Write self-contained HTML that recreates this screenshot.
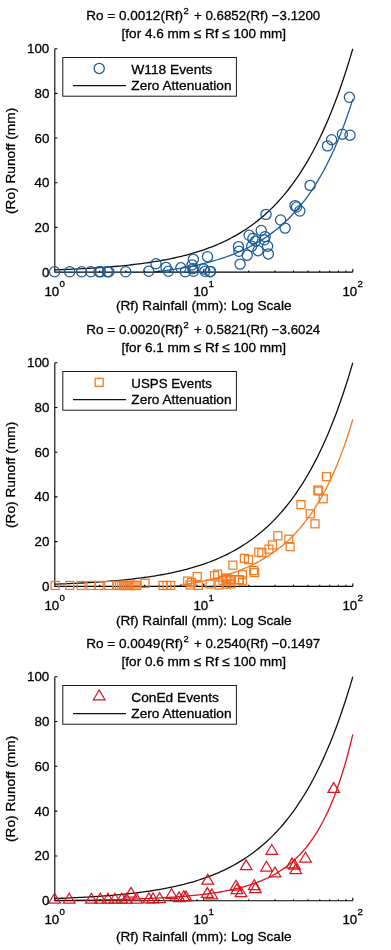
<!DOCTYPE html>
<html lang="en"><head><meta charset="utf-8"><title>Rainfall vs Runoff</title>
<style>
html,body{margin:0;padding:0;background:#fff;}
svg{display:block;}
text{font-family:"Liberation Sans",sans-serif;font-size:13.5px;fill:#000;stroke:#000;stroke-width:0.3px;}
.sup{font-size:9.4px;}
.tk{font-size:13.33px;}
.ax{stroke:#000;stroke-width:1.1;fill:none;}
.zl{stroke:#111;stroke-width:1.3;fill:none;}
</style></head><body>
<svg width="391" height="950" viewBox="0 0 391 950">
<rect width="391" height="950" fill="#fff"/>
<g>
<text x="86.2" y="20" textLength="96.8" lengthAdjust="spacingAndGlyphs">Ro = 0.0012(Rf)</text>
<text x="183.4" y="13.7" class="sup">2</text>
<text x="194.0" y="20" textLength="126.2" lengthAdjust="spacingAndGlyphs">+ 0.6852(Rf) −3.1200</text>
<text x="121.6" y="37.5" textLength="164.4" lengthAdjust="spacingAndGlyphs">[for 4.6 mm ≤ Rf ≤ 100 mm]</text>
<path class="zl" d="M54.8 269.87 L57.28 269.78 L59.77 269.69 L62.25 269.59 L64.73 269.5 L67.22 269.39 L69.7 269.29 L72.18 269.18 L74.67 269.06 L77.15 268.94 L79.63 268.82 L82.12 268.69 L84.6 268.56 L87.08 268.42 L89.57 268.28 L92.05 268.13 L94.53 267.97 L97.02 267.81 L99.5 267.64 L101.98 267.47 L104.47 267.29 L106.95 267.1 L109.43 266.9 L111.92 266.7 L114.4 266.49 L116.88 266.27 L119.37 266.04 L121.85 265.8 L124.33 265.56 L126.82 265.3 L129.3 265.04 L131.78 264.76 L134.27 264.47 L136.75 264.17 L139.23 263.86 L141.72 263.54 L144.2 263.21 L146.68 262.86 L149.17 262.5 L151.65 262.12 L154.13 261.73 L156.62 261.33 L159.1 260.9 L161.58 260.47 L164.07 260.01 L166.55 259.54 L169.03 259.05 L171.52 258.54 L174 258 L176.48 257.45 L178.97 256.88 L181.45 256.28 L183.93 255.67 L186.42 255.02 L188.9 254.35 L191.38 253.66 L193.87 252.94 L196.35 252.19 L198.83 251.41 L201.32 250.6 L203.8 249.76 L206.28 248.89 L208.77 247.98 L211.25 247.03 L213.73 246.05 L216.22 245.03 L218.7 243.98 L221.18 242.88 L223.67 241.73 L226.15 240.54 L228.63 239.31 L231.12 238.03 L233.6 236.69 L236.08 235.31 L238.57 233.87 L241.05 232.37 L243.53 230.82 L246.02 229.2 L248.5 227.53 L250.98 225.78 L253.47 223.97 L255.95 222.09 L258.43 220.13 L260.92 218.1 L263.4 215.98 L265.88 213.79 L268.37 211.51 L270.85 209.14 L273.33 206.67 L275.82 204.11 L278.3 201.45 L280.78 198.69 L283.27 195.82 L285.75 192.83 L288.23 189.73 L290.72 186.51 L293.2 183.16 L295.68 179.68 L298.17 176.07 L300.65 172.31 L303.13 168.41 L305.62 164.35 L308.1 160.13 L310.58 155.75 L313.07 151.2 L315.55 146.47 L318.03 141.56 L320.52 136.45 L323 131.14 L325.48 125.63 L327.97 119.9 L330.45 113.94 L332.93 107.76 L335.42 101.33 L337.9 94.65 L340.38 87.7 L342.87 80.49 L345.35 72.99 L347.83 65.21 L350.32 57.11 L352.8 48.7"/>
<path d="M153.55 271.97 L155.21 271.79 L156.87 271.6 L158.53 271.4 L160.19 271.2 L161.85 270.99 L163.51 270.78 L165.17 270.56 L166.83 270.34 L168.49 270.11 L170.16 269.87 L171.82 269.63 L173.48 269.38 L175.14 269.13 L176.8 268.87 L178.46 268.6 L180.12 268.33 L181.78 268.04 L183.44 267.75 L185.1 267.45 L186.76 267.15 L188.42 266.83 L190.08 266.51 L191.74 266.18 L193.4 265.84 L195.06 265.49 L196.72 265.13 L198.38 264.77 L200.04 264.39 L201.7 264 L203.36 263.6 L205.02 263.19 L206.68 262.77 L208.34 262.34 L210 261.9 L211.67 261.44 L213.33 260.98 L214.99 260.5 L216.65 260 L218.31 259.5 L219.97 258.98 L221.63 258.44 L223.29 257.89 L224.95 257.33 L226.61 256.75 L228.27 256.16 L229.93 255.55 L231.59 254.92 L233.25 254.27 L234.91 253.61 L236.57 252.93 L238.23 252.23 L239.89 251.51 L241.55 250.78 L243.21 250.02 L244.87 249.24 L246.53 248.44 L248.19 247.61 L249.85 246.77 L251.52 245.9 L253.18 245.01 L254.84 244.09 L256.5 243.14 L258.16 242.17 L259.82 241.18 L261.48 240.15 L263.14 239.1 L264.8 238.01 L266.46 236.9 L268.12 235.75 L269.78 234.58 L271.44 233.36 L273.1 232.12 L274.76 230.84 L276.42 229.52 L278.08 228.16 L279.74 226.77 L281.4 225.34 L283.06 223.86 L284.72 222.34 L286.38 220.78 L288.04 219.17 L289.7 217.52 L291.36 215.82 L293.03 214.07 L294.69 212.27 L296.35 210.41 L298.01 208.5 L299.67 206.54 L301.33 204.51 L302.99 202.43 L304.65 200.28 L306.31 198.08 L307.97 195.8 L309.63 193.46 L311.29 191.04 L312.95 188.56 L314.61 186 L316.27 183.36 L317.93 180.64 L319.59 177.84 L321.25 174.95 L322.91 171.97 L324.57 168.91 L326.23 165.74 L327.89 162.48 L329.55 159.12 L331.21 155.66 L332.88 152.08 L334.54 148.4 L336.2 144.59 L337.86 140.67 L339.52 136.62 L341.18 132.45 L342.84 128.14 L344.5 123.69 L346.16 119.09 L347.82 114.35 L349.48 109.46 L351.14 104.41 L352.8 99.19" fill="none" stroke="#1d5c97" stroke-width="1.3"/>
<path class="ax" d="M54.8 48.7V272.1H352.8M54.8 272.1h2.6M54.8 227.42h2.6M54.8 182.74h2.6M54.8 138.06h2.6M54.8 93.38h2.6M54.8 48.7h2.6M54.8 272.1v-3M99.65 272.1v-1.6M125.89 272.1v-1.6M144.51 272.1v-1.6M158.95 272.1v-1.6M170.74 272.1v-1.6M180.72 272.1v-1.6M189.36 272.1v-1.6M196.98 272.1v-1.6M203.8 272.1v-3M248.65 272.1v-1.6M274.89 272.1v-1.6M293.51 272.1v-1.6M307.95 272.1v-1.6M319.74 272.1v-1.6M329.72 272.1v-1.6M338.36 272.1v-1.6M345.98 272.1v-1.6M352.8 272.1v-3"/>
<g fill="none" stroke="#1d5c97" stroke-width="1.25">
<circle cx="54.6" cy="271.75" r="5.1"/>
<circle cx="69.7" cy="271.75" r="5.1"/>
<circle cx="81.7" cy="271.75" r="5.1"/>
<circle cx="90.8" cy="271.75" r="5.1"/>
<circle cx="99" cy="271.75" r="5.1"/>
<circle cx="100.4" cy="271.75" r="5.1"/>
<circle cx="107.4" cy="271.75" r="5.1"/>
<circle cx="108.8" cy="271.75" r="5.1"/>
<circle cx="125.7" cy="271.75" r="5.1"/>
<circle cx="148.7" cy="271.3" r="5.1"/>
<circle cx="156" cy="263.8" r="5.1"/>
<circle cx="166" cy="267.4" r="5.1"/>
<circle cx="168.4" cy="271.3" r="5.1"/>
<circle cx="180.9" cy="267.8" r="5.1"/>
<circle cx="185.3" cy="271.75" r="5.1"/>
<circle cx="193.4" cy="259.3" r="5.1"/>
<circle cx="207.5" cy="256.7" r="5.1"/>
<circle cx="192.1" cy="264.9" r="5.1"/>
<circle cx="193.4" cy="271.3" r="5.1"/>
<circle cx="192.8" cy="268.8" r="5.1"/>
<circle cx="203.7" cy="269" r="5.1"/>
<circle cx="204.9" cy="271.3" r="5.1"/>
<circle cx="210" cy="271.75" r="5.1"/>
<circle cx="210.5" cy="271.4" r="5.1"/>
<circle cx="266" cy="214.4" r="5.1"/>
<circle cx="280.6" cy="220" r="5.1"/>
<circle cx="285.1" cy="228.1" r="5.1"/>
<circle cx="261.2" cy="230.5" r="5.1"/>
<circle cx="249.1" cy="235.3" r="5.1"/>
<circle cx="252.9" cy="238.5" r="5.1"/>
<circle cx="255.5" cy="241.1" r="5.1"/>
<circle cx="265.1" cy="236.6" r="5.1"/>
<circle cx="264.4" cy="239.8" r="5.1"/>
<circle cx="251.7" cy="246.2" r="5.1"/>
<circle cx="267.6" cy="246.2" r="5.1"/>
<circle cx="238.5" cy="246.6" r="5.1"/>
<circle cx="238.9" cy="251.3" r="5.1"/>
<circle cx="247.2" cy="255.2" r="5.1"/>
<circle cx="258" cy="250.7" r="5.1"/>
<circle cx="268.3" cy="253.9" r="5.1"/>
<circle cx="240.1" cy="264.1" r="5.1"/>
<circle cx="349.4" cy="97.3" r="5.1"/>
<circle cx="342.4" cy="134.2" r="5.1"/>
<circle cx="350" cy="135.2" r="5.1"/>
<circle cx="331.6" cy="139.7" r="5.1"/>
<circle cx="327.5" cy="145.9" r="5.1"/>
<circle cx="310.1" cy="185.4" r="5.1"/>
<circle cx="295" cy="205.6" r="5.1"/>
<circle cx="296.6" cy="207" r="5.1"/>
<circle cx="299.8" cy="211" r="5.1"/>
</g>
<text class="tk" x="49.3" y="276.65" text-anchor="end">0</text>
<text class="tk" x="49.3" y="231.97" text-anchor="end">20</text>
<text class="tk" x="49.3" y="187.29" text-anchor="end">40</text>
<text class="tk" x="49.3" y="142.61" text-anchor="end">60</text>
<text class="tk" x="49.3" y="97.93" text-anchor="end">80</text>
<text class="tk" x="49.3" y="53.25" text-anchor="end">100</text>
<text class="tk" x="44.4" y="296.1">10<tspan class="sup" style="font-size:9.7px" dy="-9.3" dx="0.3">0</tspan></text>
<text class="tk" x="193.4" y="296.1">10<tspan class="sup" style="font-size:9.7px" dy="-9.3" dx="0.3">1</tspan></text>
<text class="tk" x="342.4" y="296.1">10<tspan class="sup" style="font-size:9.7px" dy="-9.3" dx="0.3">2</tspan></text>
<text x="115.9" y="310.3" textLength="175.6" lengthAdjust="spacingAndGlyphs">(Rf) Rainfall (mm): Log Scale</text>
<text transform="translate(15.2 214) rotate(-90)" textLength="106.2" lengthAdjust="spacingAndGlyphs">(Ro) Runoff (mm)</text>
<rect x="62.8" y="57.5" width="173.6" height="38.7" fill="#fff" stroke="#1a1a1a" stroke-width="1"/>
<g fill="none" stroke="#1d5c97" stroke-width="1.25"><circle cx="99.2" cy="68.4" r="5.1"/></g>
<path class="zl" style="stroke-width:1.05" d="M73 85.6H126"/>
<text x="131.3" y="74.1" textLength="80.8" lengthAdjust="spacingAndGlyphs">W118 Events</text>
<text x="131.3" y="90.3" textLength="100.2" lengthAdjust="spacingAndGlyphs">Zero Attenuation</text>
</g>
<g>
<text x="86.2" y="334" textLength="96.8" lengthAdjust="spacingAndGlyphs">Ro = 0.0020(Rf)</text>
<text x="183.4" y="327.7" class="sup">2</text>
<text x="194.0" y="334" textLength="126.2" lengthAdjust="spacingAndGlyphs">+ 0.5821(Rf) −3.6024</text>
<text x="121.6" y="351.5" textLength="164.4" lengthAdjust="spacingAndGlyphs">[for 6.1 mm ≤ Rf ≤ 100 mm]</text>
<path class="zl" d="M54.8 584.16 L57.28 584.08 L59.77 583.98 L62.25 583.89 L64.73 583.79 L67.22 583.69 L69.7 583.58 L72.18 583.47 L74.67 583.36 L77.15 583.24 L79.63 583.12 L82.12 582.99 L84.6 582.85 L87.08 582.72 L89.57 582.57 L92.05 582.42 L94.53 582.27 L97.02 582.1 L99.5 581.94 L101.98 581.76 L104.47 581.58 L106.95 581.39 L109.43 581.2 L111.92 580.99 L114.4 580.78 L116.88 580.56 L119.37 580.33 L121.85 580.1 L124.33 579.85 L126.82 579.59 L129.3 579.33 L131.78 579.05 L134.27 578.76 L136.75 578.46 L139.23 578.15 L141.72 577.83 L144.2 577.49 L146.68 577.15 L149.17 576.78 L151.65 576.41 L154.13 576.02 L156.62 575.61 L159.1 575.19 L161.58 574.75 L164.07 574.29 L166.55 573.82 L169.03 573.33 L171.52 572.82 L174 572.29 L176.48 571.73 L178.97 571.16 L181.45 570.56 L183.93 569.94 L186.42 569.3 L188.9 568.63 L191.38 567.94 L193.87 567.21 L196.35 566.46 L198.83 565.68 L201.32 564.87 L203.8 564.03 L206.28 563.15 L208.77 562.25 L211.25 561.3 L213.73 560.32 L216.22 559.3 L218.7 558.24 L221.18 557.14 L223.67 555.99 L226.15 554.8 L228.63 553.57 L231.12 552.28 L233.6 550.95 L236.08 549.56 L238.57 548.12 L241.05 546.62 L243.53 545.06 L246.02 543.45 L248.5 541.77 L250.98 540.02 L253.47 538.21 L255.95 536.32 L258.43 534.36 L260.92 532.32 L263.4 530.21 L265.88 528.01 L268.37 525.73 L270.85 523.35 L273.33 520.89 L275.82 518.32 L278.3 515.66 L280.78 512.89 L283.27 510.02 L285.75 507.03 L288.23 503.92 L290.72 500.7 L293.2 497.34 L295.68 493.86 L298.17 490.24 L300.65 486.48 L303.13 482.57 L305.62 478.51 L308.1 474.28 L310.58 469.9 L313.07 465.34 L315.55 460.6 L318.03 455.68 L320.52 450.57 L323 445.25 L325.48 439.73 L327.97 433.99 L330.45 428.03 L332.93 421.84 L335.42 415.4 L337.9 408.71 L340.38 401.76 L342.87 394.53 L345.35 387.03 L347.83 379.23 L350.32 371.12 L352.8 362.7"/>
<path d="M171.81 586.35 L173.32 586.15 L174.83 585.95 L176.34 585.75 L177.85 585.54 L179.36 585.32 L180.86 585.1 L182.37 584.88 L183.88 584.65 L185.39 584.41 L186.9 584.17 L188.4 583.92 L189.91 583.66 L191.42 583.4 L192.93 583.13 L194.44 582.86 L195.95 582.57 L197.45 582.29 L198.96 581.99 L200.47 581.69 L201.98 581.38 L203.49 581.06 L204.99 580.73 L206.5 580.4 L208.01 580.05 L209.52 579.7 L211.03 579.34 L212.54 578.97 L214.04 578.59 L215.55 578.2 L217.06 577.8 L218.57 577.39 L220.08 576.97 L221.59 576.54 L223.09 576.1 L224.6 575.65 L226.11 575.18 L227.62 574.71 L229.13 574.22 L230.63 573.72 L232.14 573.21 L233.65 572.68 L235.16 572.14 L236.67 571.58 L238.18 571.01 L239.68 570.43 L241.19 569.83 L242.7 569.22 L244.21 568.58 L245.72 567.94 L247.22 567.27 L248.73 566.59 L250.24 565.89 L251.75 565.17 L253.26 564.43 L254.77 563.67 L256.27 562.9 L257.78 562.1 L259.29 561.28 L260.8 560.43 L262.31 559.57 L263.82 558.68 L265.32 557.77 L266.83 556.83 L268.34 555.87 L269.85 554.88 L271.36 553.86 L272.86 552.82 L274.37 551.74 L275.88 550.64 L277.39 549.51 L278.9 548.34 L280.41 547.14 L281.91 545.91 L283.42 544.65 L284.93 543.35 L286.44 542.01 L287.95 540.63 L289.45 539.22 L290.96 537.76 L292.47 536.27 L293.98 534.73 L295.49 533.14 L297 531.51 L298.5 529.84 L300.01 528.11 L301.52 526.34 L303.03 524.51 L304.54 522.63 L306.05 520.69 L307.55 518.69 L309.06 516.64 L310.57 514.53 L312.08 512.35 L313.59 510.11 L315.09 507.8 L316.6 505.42 L318.11 502.96 L319.62 500.44 L321.13 497.83 L322.64 495.15 L324.14 492.38 L325.65 489.53 L327.16 486.59 L328.67 483.55 L330.18 480.43 L331.68 477.2 L333.19 473.87 L334.7 470.44 L336.21 466.9 L337.72 463.24 L339.23 459.47 L340.73 455.58 L342.24 451.56 L343.75 447.41 L345.26 443.13 L346.77 438.7 L348.28 434.14 L349.78 429.42 L351.29 424.54 L352.8 419.5" fill="none" stroke="#f47a20" stroke-width="1.3"/>
<path class="ax" d="M54.8 362.7V586.4H352.8M54.8 586.4h2.6M54.8 541.66h2.6M54.8 496.92h2.6M54.8 452.18h2.6M54.8 407.44h2.6M54.8 362.7h2.6M54.8 586.4v-3M99.65 586.4v-1.6M125.89 586.4v-1.6M144.51 586.4v-1.6M158.95 586.4v-1.6M170.74 586.4v-1.6M180.72 586.4v-1.6M189.36 586.4v-1.6M196.98 586.4v-1.6M203.8 586.4v-3M248.65 586.4v-1.6M274.89 586.4v-1.6M293.51 586.4v-1.6M307.95 586.4v-1.6M319.74 586.4v-1.6M329.72 586.4v-1.6M338.36 586.4v-1.6M345.98 586.4v-1.6M352.8 586.4v-3"/>
<g fill="none" stroke="#f47a20" stroke-width="1.25">
<rect x="51.1" y="581.45" width="8" height="8"/>
<rect x="65.7" y="581.45" width="8" height="8"/>
<rect x="77.2" y="581.45" width="8" height="8"/>
<rect x="87" y="581.45" width="8" height="8"/>
<rect x="95.2" y="581.45" width="8" height="8"/>
<rect x="104.7" y="581.45" width="8" height="8"/>
<rect x="113" y="581.45" width="8" height="8"/>
<rect x="115.3" y="581.45" width="8" height="8"/>
<rect x="117.5" y="581.45" width="8" height="8"/>
<rect x="119.5" y="581.45" width="8" height="8"/>
<rect x="121" y="581.45" width="8" height="8"/>
<rect x="123" y="581.45" width="8" height="8"/>
<rect x="125" y="581.45" width="8" height="8"/>
<rect x="127" y="581.45" width="8" height="8"/>
<rect x="129" y="581.45" width="8" height="8"/>
<rect x="131" y="581.45" width="8" height="8"/>
<rect x="132.6" y="581.45" width="8" height="8"/>
<rect x="141" y="579.3" width="8" height="8"/>
<rect x="159" y="581.45" width="8" height="8"/>
<rect x="162.9" y="581.45" width="8" height="8"/>
<rect x="166.7" y="581.45" width="8" height="8"/>
<rect x="228.9" y="561.2" width="8" height="8"/>
<rect x="193.2" y="572.5" width="8" height="8"/>
<rect x="213.6" y="570.2" width="8" height="8"/>
<rect x="210.5" y="571.7" width="8" height="8"/>
<rect x="183.7" y="577.1" width="8" height="8"/>
<rect x="187.5" y="578.6" width="8" height="8"/>
<rect x="186" y="581" width="8" height="8"/>
<rect x="194.4" y="581.45" width="8" height="8"/>
<rect x="222" y="574" width="8" height="8"/>
<rect x="226.6" y="575.6" width="8" height="8"/>
<rect x="219" y="576.3" width="8" height="8"/>
<rect x="215.1" y="581" width="8" height="8"/>
<rect x="222" y="580.2" width="8" height="8"/>
<rect x="235" y="575.6" width="8" height="8"/>
<rect x="206" y="580" width="8" height="8"/>
<rect x="297" y="500.6" width="8" height="8"/>
<rect x="273.8" y="531.8" width="8" height="8"/>
<rect x="284.8" y="535.2" width="8" height="8"/>
<rect x="286.1" y="542.7" width="8" height="8"/>
<rect x="268.5" y="541" width="8" height="8"/>
<rect x="265" y="545.1" width="8" height="8"/>
<rect x="254.8" y="548.2" width="8" height="8"/>
<rect x="257.8" y="548.8" width="8" height="8"/>
<rect x="240.4" y="554.3" width="8" height="8"/>
<rect x="244.5" y="555.7" width="8" height="8"/>
<rect x="249.6" y="566.6" width="8" height="8"/>
<rect x="250.7" y="568.6" width="8" height="8"/>
<rect x="238.4" y="570.7" width="8" height="8"/>
<rect x="235.3" y="575.8" width="8" height="8"/>
<rect x="238.5" y="576.8" width="8" height="8"/>
<rect x="223" y="574.8" width="8" height="8"/>
<rect x="225" y="576.8" width="8" height="8"/>
<rect x="227" y="579.9" width="8" height="8"/>
<rect x="322.4" y="472.7" width="8" height="8"/>
<rect x="313.9" y="486" width="8" height="8"/>
<rect x="314.6" y="487" width="8" height="8"/>
<rect x="319.2" y="494.8" width="8" height="8"/>
<rect x="306.3" y="509.8" width="8" height="8"/>
<rect x="311" y="519.8" width="8" height="8"/>
</g>
<text class="tk" x="49.3" y="590.95" text-anchor="end">0</text>
<text class="tk" x="49.3" y="546.21" text-anchor="end">20</text>
<text class="tk" x="49.3" y="501.47" text-anchor="end">40</text>
<text class="tk" x="49.3" y="456.73" text-anchor="end">60</text>
<text class="tk" x="49.3" y="411.99" text-anchor="end">80</text>
<text class="tk" x="49.3" y="367.25" text-anchor="end">100</text>
<text class="tk" x="44.4" y="609.8">10<tspan class="sup" style="font-size:9.7px" dy="-9.3" dx="0.3">0</tspan></text>
<text class="tk" x="193.4" y="609.8">10<tspan class="sup" style="font-size:9.7px" dy="-9.3" dx="0.3">1</tspan></text>
<text class="tk" x="342.4" y="609.8">10<tspan class="sup" style="font-size:9.7px" dy="-9.3" dx="0.3">2</tspan></text>
<text x="115.9" y="625.4" textLength="175.6" lengthAdjust="spacingAndGlyphs">(Rf) Rainfall (mm): Log Scale</text>
<text transform="translate(15.2 528) rotate(-90)" textLength="106.2" lengthAdjust="spacingAndGlyphs">(Ro) Runoff (mm)</text>
<rect x="62.8" y="371.5" width="173.6" height="38.7" fill="#fff" stroke="#1a1a1a" stroke-width="1"/>
<g fill="none" stroke="#f47a20" stroke-width="1.25"><rect x="95.2" y="378.4" width="8" height="8"/></g>
<path class="zl" style="stroke-width:1.05" d="M73 399.6H126"/>
<text x="131.3" y="388.1" textLength="80.6" lengthAdjust="spacingAndGlyphs">USPS Events</text>
<text x="131.3" y="404.3" textLength="100.2" lengthAdjust="spacingAndGlyphs">Zero Attenuation</text>
</g>
<g>
<text x="86.2" y="648" textLength="96.8" lengthAdjust="spacingAndGlyphs">Ro = 0.0049(Rf)</text>
<text x="183.4" y="641.7" class="sup">2</text>
<text x="194.0" y="648" textLength="126.2" lengthAdjust="spacingAndGlyphs">+ 0.2540(Rf) −0.1497</text>
<text x="121.6" y="665.5" textLength="164.4" lengthAdjust="spacingAndGlyphs">[for 0.6 mm ≤ Rf ≤ 100 mm]</text>
<path class="zl" d="M54.8 898.51 L57.28 898.42 L59.77 898.33 L62.25 898.24 L64.73 898.14 L67.22 898.04 L69.7 897.93 L72.18 897.82 L74.67 897.7 L77.15 897.59 L79.63 897.46 L82.12 897.33 L84.6 897.2 L87.08 897.06 L89.57 896.92 L92.05 896.77 L94.53 896.61 L97.02 896.45 L99.5 896.28 L101.98 896.1 L104.47 895.92 L106.95 895.73 L109.43 895.54 L111.92 895.33 L114.4 895.12 L116.88 894.9 L119.37 894.67 L121.85 894.44 L124.33 894.19 L126.82 893.93 L129.3 893.66 L131.78 893.39 L134.27 893.1 L136.75 892.8 L139.23 892.49 L141.72 892.17 L144.2 891.83 L146.68 891.48 L149.17 891.12 L151.65 890.74 L154.13 890.35 L156.62 889.94 L159.1 889.52 L161.58 889.08 L164.07 888.63 L166.55 888.15 L169.03 887.66 L171.52 887.15 L174 886.61 L176.48 886.06 L178.97 885.49 L181.45 884.89 L183.93 884.27 L186.42 883.62 L188.9 882.95 L191.38 882.26 L193.87 881.53 L196.35 880.78 L198.83 880 L201.32 879.19 L203.8 878.35 L206.28 877.47 L208.77 876.56 L211.25 875.61 L213.73 874.63 L216.22 873.61 L218.7 872.54 L221.18 871.44 L223.67 870.29 L226.15 869.1 L228.63 867.86 L231.12 866.58 L233.6 865.24 L236.08 863.85 L238.57 862.41 L241.05 860.91 L243.53 859.35 L246.02 857.73 L248.5 856.05 L250.98 854.3 L253.47 852.48 L255.95 850.59 L258.43 848.63 L260.92 846.59 L263.4 844.47 L265.88 842.27 L268.37 839.98 L270.85 837.6 L273.33 835.13 L275.82 832.57 L278.3 829.9 L280.78 827.13 L283.27 824.25 L285.75 821.25 L288.23 818.14 L290.72 814.91 L293.2 811.55 L295.68 808.06 L298.17 804.44 L300.65 800.67 L303.13 796.76 L305.62 792.69 L308.1 788.46 L310.58 784.07 L313.07 779.5 L315.55 774.76 L318.03 769.83 L320.52 764.71 L323 759.38 L325.48 753.85 L327.97 748.11 L330.45 742.13 L332.93 735.93 L335.42 729.48 L337.9 722.78 L340.38 715.82 L342.87 708.58 L345.35 701.07 L347.83 693.25 L350.32 685.14 L352.8 676.7"/>
<path d="M54.8 900.51 L57.28 900.48 L59.77 900.46 L62.25 900.43 L64.73 900.41 L67.22 900.38 L69.7 900.35 L72.18 900.32 L74.67 900.29 L77.15 900.26 L79.63 900.23 L82.12 900.19 L84.6 900.16 L87.08 900.12 L89.57 900.08 L92.05 900.04 L94.53 900 L97.02 899.95 L99.5 899.91 L101.98 899.86 L104.47 899.81 L106.95 899.76 L109.43 899.7 L111.92 899.65 L114.4 899.59 L116.88 899.53 L119.37 899.46 L121.85 899.39 L124.33 899.32 L126.82 899.25 L129.3 899.18 L131.78 899.1 L134.27 899.01 L136.75 898.93 L139.23 898.84 L141.72 898.74 L144.2 898.65 L146.68 898.54 L149.17 898.44 L151.65 898.32 L154.13 898.21 L156.62 898.09 L159.1 897.96 L161.58 897.82 L164.07 897.68 L166.55 897.54 L169.03 897.39 L171.52 897.23 L174 897.06 L176.48 896.88 L178.97 896.7 L181.45 896.51 L183.93 896.3 L186.42 896.09 L188.9 895.87 L191.38 895.64 L193.87 895.4 L196.35 895.14 L198.83 894.87 L201.32 894.59 L203.8 894.3 L206.28 893.99 L208.77 893.66 L211.25 893.32 L213.73 892.96 L216.22 892.58 L218.7 892.18 L221.18 891.76 L223.67 891.32 L226.15 890.86 L228.63 890.37 L231.12 889.85 L233.6 889.31 L236.08 888.74 L238.57 888.13 L241.05 887.49 L243.53 886.82 L246.02 886.11 L248.5 885.36 L250.98 884.57 L253.47 883.73 L255.95 882.84 L258.43 881.91 L260.92 880.91 L263.4 879.86 L265.88 878.75 L268.37 877.57 L270.85 876.33 L273.33 875 L275.82 873.6 L278.3 872.11 L280.78 870.53 L283.27 868.85 L285.75 867.07 L288.23 865.18 L290.72 863.17 L293.2 861.03 L295.68 858.76 L298.17 856.34 L300.65 853.76 L303.13 851.02 L305.62 848.1 L308.1 844.99 L310.58 841.67 L313.07 838.14 L315.55 834.37 L318.03 830.34 L320.52 826.05 L323 821.47 L325.48 816.58 L327.97 811.36 L330.45 805.77 L332.93 799.81 L335.42 793.43 L337.9 786.61 L340.38 779.32 L342.87 771.51 L345.35 763.16 L347.83 754.22 L350.32 744.65 L352.8 734.39" fill="none" stroke="#dc141e" stroke-width="1.3"/>
<path class="ax" d="M54.8 676.7V900.75H352.8M54.8 900.75h2.6M54.8 855.94h2.6M54.8 811.13h2.6M54.8 766.32h2.6M54.8 721.51h2.6M54.8 676.7h2.6M54.8 900.75v-3M99.65 900.75v-1.6M125.89 900.75v-1.6M144.51 900.75v-1.6M158.95 900.75v-1.6M170.74 900.75v-1.6M180.72 900.75v-1.6M189.36 900.75v-1.6M196.98 900.75v-1.6M203.8 900.75v-3M248.65 900.75v-1.6M274.89 900.75v-1.6M293.51 900.75v-1.6M307.95 900.75v-1.6M319.74 900.75v-1.6M329.72 900.75v-1.6M338.36 900.75v-1.6M345.98 900.75v-1.6M352.8 900.75v-3"/>
<g fill="none" stroke="#dc141e" stroke-width="1.25">
<path d="M54.6 893.2L48.8 903L60.4 903Z"/>
<path d="M69.2 893.2L63.4 903L75 903Z"/>
<path d="M91.4 893.2L85.6 903L97.2 903Z"/>
<path d="M100.3 893.2L94.5 903L106.1 903Z"/>
<path d="M108 893.2L102.2 903L113.8 903Z"/>
<path d="M114.9 893.2L109.1 903L120.7 903Z"/>
<path d="M121.8 893.2L116 903L127.6 903Z"/>
<path d="M126.4 893.2L120.6 903L132.2 903Z"/>
<path d="M131 887.4L125.2 897.2L136.8 897.2Z"/>
<path d="M136.4 893.2L130.6 903L142.2 903Z"/>
<path d="M148.9 893L143.1 902.8L154.7 902.8Z"/>
<path d="M153 893L147.2 902.8L158.8 902.8Z"/>
<path d="M159.6 892.7L153.8 902.5L165.4 902.5Z"/>
<path d="M171.5 888.8L165.7 898.6L177.3 898.6Z"/>
<path d="M179.1 891.9L173.3 901.7L184.9 901.7Z"/>
<path d="M183.7 890.8L177.9 900.6L189.5 900.6Z"/>
<path d="M186 891.1L180.2 900.9L191.8 900.9Z"/>
<path d="M207.7 874.3L201.9 884.1L213.5 884.1Z"/>
<path d="M207.3 887.6L201.5 897.4L213.1 897.4Z"/>
<path d="M211.8 889L206 898.8L217.6 898.8Z"/>
<path d="M235.9 880.3L230.1 890.1L241.7 890.1Z"/>
<path d="M236.9 883.8L231.1 893.6L242.7 893.6Z"/>
<path d="M241 886.9L235.2 896.7L246.8 896.7Z"/>
<path d="M254.3 879.7L248.5 889.5L260.1 889.5Z"/>
<path d="M255.4 882.8L249.6 892.6L261.2 892.6Z"/>
<path d="M246.2 859.9L240.4 869.7L252 869.7Z"/>
<path d="M266.5 861.2L260.7 871L272.3 871Z"/>
<path d="M271.8 844.5L266 854.3L277.6 854.3Z"/>
<path d="M275 867L269.2 876.8L280.8 876.8Z"/>
<path d="M333.7 782.6L327.9 792.4L339.5 792.4Z"/>
<path d="M305.5 852.2L299.7 862L311.3 862Z"/>
<path d="M292 858.1L286.2 867.9L297.8 867.9Z"/>
<path d="M294.5 859.3L288.7 869.1L300.3 869.1Z"/>
<path d="M295.8 863.9L290 873.7L301.6 873.7Z"/>
</g>
<text class="tk" x="49.3" y="905.3" text-anchor="end">0</text>
<text class="tk" x="49.3" y="860.49" text-anchor="end">20</text>
<text class="tk" x="49.3" y="815.68" text-anchor="end">40</text>
<text class="tk" x="49.3" y="770.87" text-anchor="end">60</text>
<text class="tk" x="49.3" y="726.06" text-anchor="end">80</text>
<text class="tk" x="49.3" y="681.25" text-anchor="end">100</text>
<text class="tk" x="44.4" y="924.4">10<tspan class="sup" style="font-size:9.7px" dy="-9.3" dx="0.3">0</tspan></text>
<text class="tk" x="193.4" y="924.4">10<tspan class="sup" style="font-size:9.7px" dy="-9.3" dx="0.3">1</tspan></text>
<text class="tk" x="342.4" y="924.4">10<tspan class="sup" style="font-size:9.7px" dy="-9.3" dx="0.3">2</tspan></text>
<text x="115.9" y="940.5" textLength="175.6" lengthAdjust="spacingAndGlyphs">(Rf) Rainfall (mm): Log Scale</text>
<text transform="translate(15.2 842) rotate(-90)" textLength="106.2" lengthAdjust="spacingAndGlyphs">(Ro) Runoff (mm)</text>
<rect x="62.8" y="685.5" width="173.6" height="38.7" fill="#fff" stroke="#1a1a1a" stroke-width="1"/>
<g fill="none" stroke="#dc141e" stroke-width="1.25"><path d="M99.2 690L93.4 699.8L105 699.8Z"/></g>
<path class="zl" style="stroke-width:1.05" d="M73 713.6H126"/>
<text x="131.3" y="702.1" textLength="87.6" lengthAdjust="spacingAndGlyphs">ConEd Events</text>
<text x="131.3" y="718.3" textLength="100.2" lengthAdjust="spacingAndGlyphs">Zero Attenuation</text>
</g>
</svg></body></html>
